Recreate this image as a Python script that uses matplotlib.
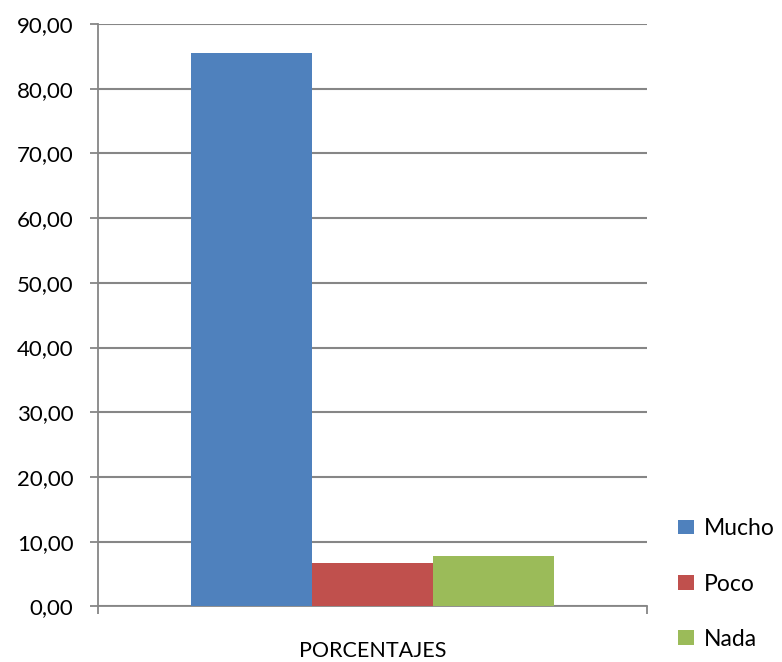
import matplotlib
matplotlib.use("Agg")
import matplotlib.pyplot as plt
import numpy as np

# data
series = ["Mucho", "Poco", "Nada"]
values = [85.56, 6.67, 7.78]
colors = ["#4F81BD", "#C0504D", "#9BBB59"]
category = "PORCENTAJES"
y_ticks = np.arange(0, 100, 10)

plt.rcParams['font.family'] = ['Lato', 'DejaVu Sans']
grey = "#868686"

fig = plt.figure(figsize=(7.82, 6.62), dpi=100)
ax = fig.add_axes([0.1249, 0.0841, 0.7025, 0.8796])

bar_w = 0.22
offsets = (np.arange(len(series)) - 1) * bar_w
for off, val, col, name in zip(offsets, values, colors, series):
    ax.bar(off, val, width=bar_w, color=col, label=name, zorder=3)

ax.set_xlim(-0.5, 0.5)
ax.set_ylim(0, 90)
ax.set_yticks(y_ticks)
ax.set_yticklabels([f"{v:.2f}".replace(".", ",") for v in y_ticks], fontsize=16)
ax.yaxis.grid(True, color=grey, linewidth=1.5, zorder=0)

# single category label, boundary ticks at both ends
ax.set_xticks([0])
ax.set_xticklabels([category], fontsize=15.5)
ax.tick_params(axis='x', which='major', length=0, pad=25)
ax.set_xticks([-0.5, 0.5], minor=True)
ax.tick_params(axis='x', which='minor', length=5.5, width=1.3, color=grey)
ax.tick_params(axis='y', length=5.5, width=1.3, color=grey, pad=12)

for side in ["top", "right"]:
    ax.spines[side].set_visible(False)
for side in ["left", "bottom"]:
    ax.spines[side].set_color(grey)
    ax.spines[side].set_linewidth(1.3)

ax.legend(loc='center left', bbox_to_anchor=(0.867, 0.1178), bbox_transform=fig.transFigure,
          frameon=False, borderpad=0, borderaxespad=0, fontsize=16.5,
          handlelength=0.7, handleheight=0.62, handletextpad=0.45, labelspacing=1.5)

fig.savefig("out.png", dpi=100)
